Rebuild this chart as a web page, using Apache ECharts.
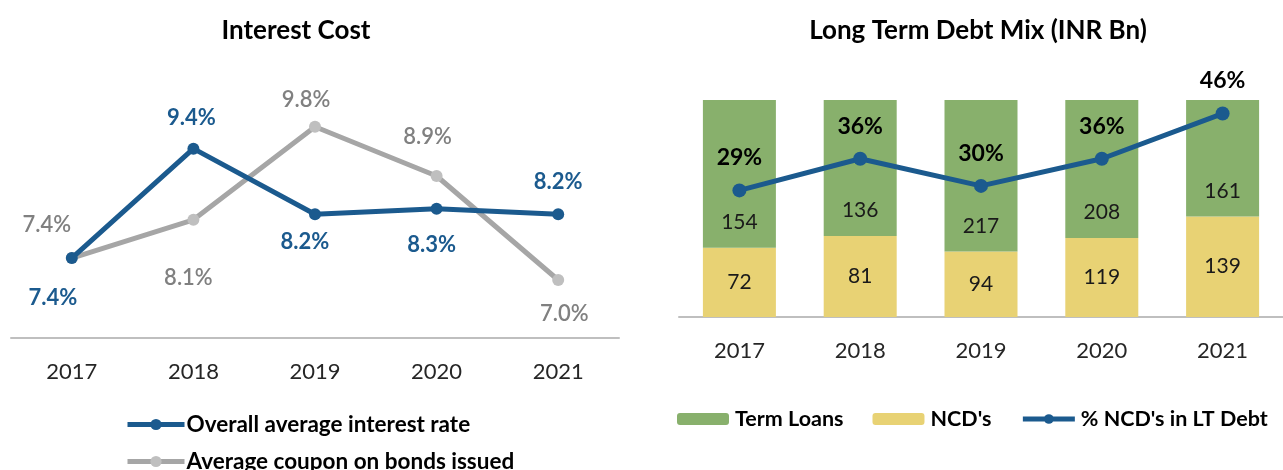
<!DOCTYPE html>
<html>
<head>
<meta charset="utf-8">
<script src="https://cdn.jsdelivr.net/npm/echarts@6/dist/echarts.min.js"></script>
<style>
html,body{margin:0;padding:0;background:#fff;}
#c{width:1283px;height:470px;}
</style>
</head>
<body>
<div id="c"></div>
<script>
// ---- data ----
const years = ['2017', '2018', '2019', '2020', '2021'];
const avgInterestRate = [7.4, 9.4, 8.2, 8.3, 8.2];
const avgCouponBonds = [7.4, 8.1, 9.8, 8.9, 7.0];
const termLoans = [154, 136, 217, 208, 161];
const ncds = [72, 81, 94, 119, 139];
const ncdPctLT = [29, 36, 30, 36, 46];

// ---- label placement (style only) ----
const blueLabelOffsets = [[-19, 40], [-2, -31], [-10, 28], [-5, 36], [0, -32]];
const grayLabelOffsets = [[-25, -33], [-5, 58], [-9, -27], [-9, -39], [6, 34]];

const FONT = 'Lato, "Open Sans", sans-serif';
const BLUE = '#1B5A8E';
const GRAY_LINE = '#A6A6A6';
const GRAY_MARK = '#BFBFBF';
const GREEN = '#88B06C';
const YELLOW = '#E8D274';

const totals = years.map((_, i) => termLoans[i] + ncds[i]);
const ncdShare = ncds.map((v, i) => v / totals[i] * 100);
const tlShare = termLoans.map((v, i) => v / totals[i] * 100);

function withOffsets(values, offsets) {
  return values.map((v, i) => ({ value: v, label: { offset: offsets[i] } }));
}

const chart = echarts.init(document.getElementById('c'), null, { renderer: 'canvas' });
chart.setOption({
  animation: false,
  textStyle: { fontFamily: FONT },
  title: [
    { text: 'Interest Cost', left: 291, top: 13, textAlign: 'center',
      textStyle: { fontFamily: FONT, fontSize: 26, fontWeight: 'bold', color: '#000' } },
    { text: 'Long Term Debt Mix (INR Bn)', left: 973, top: 13, textAlign: 'center',
      textStyle: { fontFamily: FONT, fontSize: 26, fontWeight: 'bold', color: '#000' } }
  ],
  legend: [
    { orient: 'vertical', left: 125, top: 413, height: 90, padding: 0, itemWidth: 57, itemHeight: 14, itemGap: 14,
      data: ['Overall average interest rate', 'Average coupon on bonds issued'],
      lineStyle: { width: 5 },
      textStyle: { fontFamily: FONT, fontSize: 22.5, fontWeight: 'bold', color: '#000', padding: [0, 0, 0, -3] } },
    { orient: 'horizontal', left: 677, top: 408, width: 606, padding: 0, itemWidth: 52, itemHeight: 12, itemGap: 29,
      data: ['Term Loans', "NCD's", "% NCD's in LT Debt"],
      lineStyle: { width: 5 },
      textStyle: { fontFamily: FONT, fontSize: 21.5, fontWeight: 'bold', color: '#000', padding: [0, 0, 0, 1] } }
  ],
  grid: [
    { left: 11, width: 608, top: 118, bottom: 132 },
    { left: 679, width: 608, top: 100, bottom: 153 }
  ],
  xAxis: [
    { type: 'category', gridIndex: 0, data: years, boundaryGap: true,
      axisLine: { lineStyle: { color: '#BFBFBF', width: 2 } }, axisTick: { show: false },
      axisLabel: { fontFamily: FONT, fontSize: 22, color: '#262626', margin: 23 } },
    { type: 'category', gridIndex: 1, data: years, boundaryGap: true,
      axisLine: { lineStyle: { color: '#BFBFBF', width: 2 } }, axisTick: { show: false },
      axisLabel: { fontFamily: FONT, fontSize: 22, color: '#262626', margin: 23 } }
  ],
  yAxis: [
    { type: 'value', gridIndex: 0, min: 5.94, max: 9.96, show: false, splitLine: { show: false } },
    { type: 'value', gridIndex: 1, min: 0, max: 100, show: false, splitLine: { show: false } },
    { type: 'value', gridIndex: 1, min: 1, max: 49, show: false, splitLine: { show: false } }
  ],
  series: [
    { name: 'Average coupon on bonds issued', type: 'line', xAxisIndex: 0, yAxisIndex: 0,
      data: withOffsets(avgCouponBonds, grayLabelOffsets),
      symbol: 'circle', symbolSize: 12,
      lineStyle: { color: GRAY_LINE, width: 5 }, itemStyle: { color: GRAY_MARK },
      label: { show: true, position: 'inside', formatter: p => p.value.toFixed(1) + '%',
        fontFamily: FONT, fontSize: 22, color: '#808080', fontWeight: 600 },
      z: 2 },
    { name: 'Overall average interest rate', type: 'line', xAxisIndex: 0, yAxisIndex: 0,
      data: withOffsets(avgInterestRate, blueLabelOffsets),
      symbol: 'circle', symbolSize: 12,
      lineStyle: { color: BLUE, width: 5 }, itemStyle: { color: BLUE },
      label: { show: true, position: 'inside', formatter: p => p.value.toFixed(1) + '%',
        fontFamily: FONT, fontSize: 22, color: BLUE, fontWeight: 'bold' },
      z: 3 },
    { name: "NCD's", type: 'bar', xAxisIndex: 1, yAxisIndex: 1, stack: 'debt',
      data: ncdShare, barWidth: 73, itemStyle: { color: YELLOW },
      label: { show: true, position: 'inside', formatter: p => String(ncds[p.dataIndex]),
        fontFamily: FONT, fontSize: 21, color: '#1a1a1a' } },
    { name: 'Term Loans', type: 'bar', xAxisIndex: 1, yAxisIndex: 1, stack: 'debt',
      data: tlShare, barWidth: 73, itemStyle: { color: GREEN },
      label: { show: true, position: 'insideBottom', distance: 15, formatter: p => String(termLoans[p.dataIndex]),
        fontFamily: FONT, fontSize: 21, color: '#1a1a1a' } },
    { name: "% NCD's in LT Debt", type: 'line', xAxisIndex: 1, yAxisIndex: 2,
      data: ncdPctLT, symbol: 'circle', symbolSize: 14,
      lineStyle: { color: BLUE, width: 5 }, itemStyle: { color: BLUE },
      label: { show: true, position: 'top', distance: 14, formatter: p => p.value + '%',
        fontFamily: FONT, fontSize: 23, fontWeight: 'bold', color: '#000' },
      z: 5 }
  ]
});
</script>
</body>
</html>
